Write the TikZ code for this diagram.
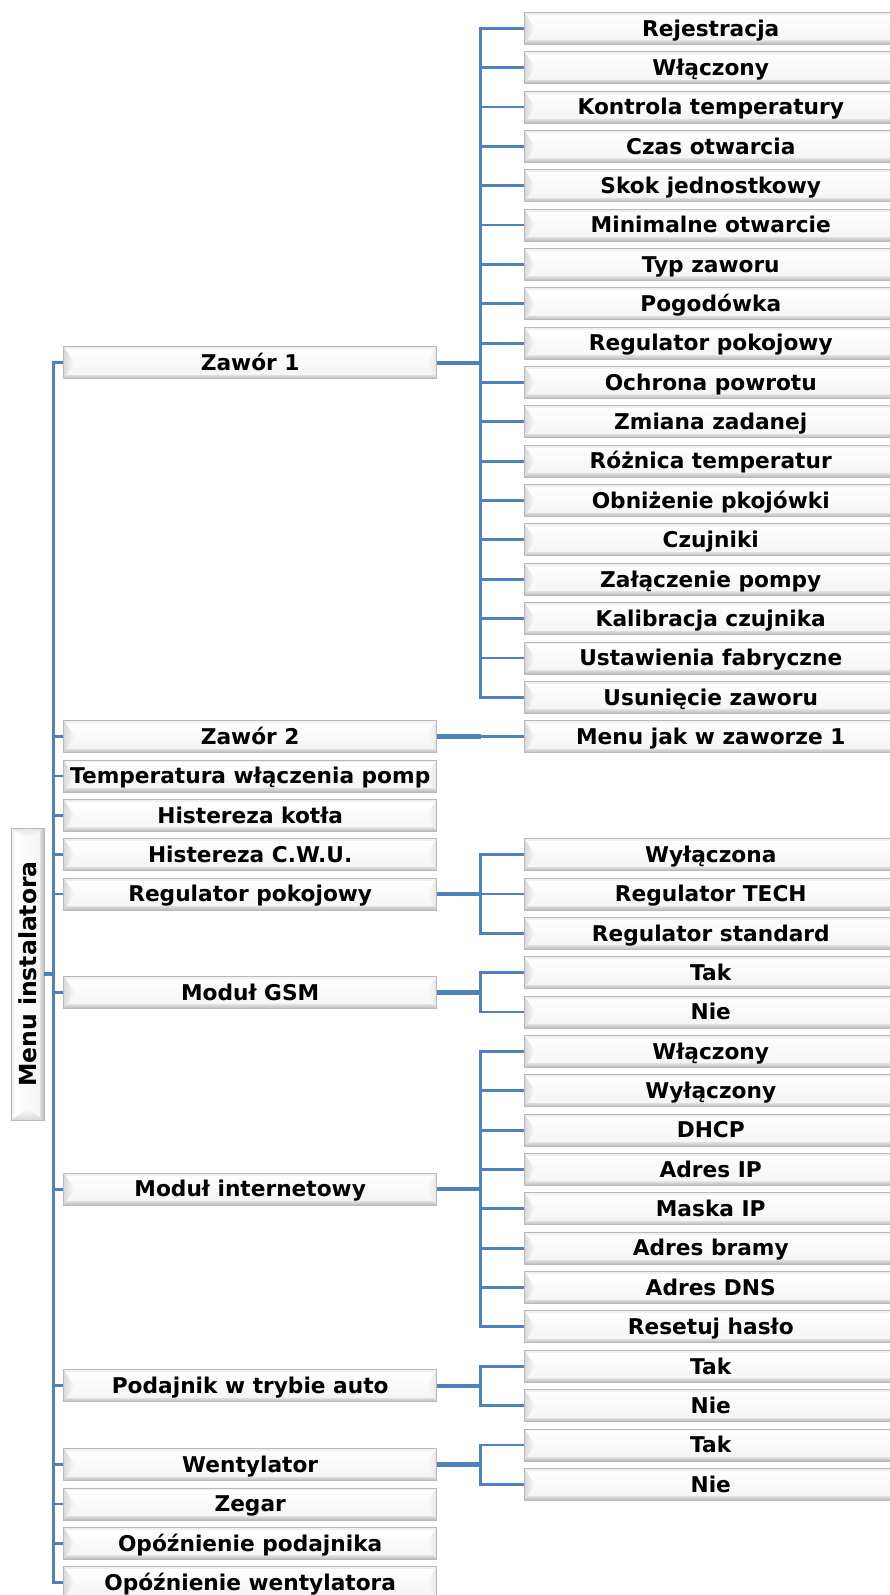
\documentclass[tikz,border=0pt]{standalone}
\usepackage{fontspec}
\usepackage{graphicx}
\newfontfamily\dvs{DejaVu Sans}
\usetikzlibrary{calc}
\definecolor{lb}{RGB}{79,129,189}
\tikzset{
  bevbox/.style={rectangle, minimum height=32pt, inner sep=0pt,
    text height=15.6pt, text depth=0pt,
    font=\dvs\bfseries\fontsize{21.7}{24}\selectfont,
    draw=gray!55, line width=0.8pt, top color=white, bottom color=gray!9,
    path picture={
      \fill[gray!12] (path picture bounding box.north west) rectangle ($(path picture bounding box.north east)+(0,-2.5)$);
      \shade[top color=gray!28, bottom color=gray!55] ($(path picture bounding box.south west)+(0,3.5)$) rectangle (path picture bounding box.south east);
      \shade[left color=gray!30, right color=gray!4] (path picture bounding box.north west) -- ($(path picture bounding box.west)+(11,0)$) -- (path picture bounding box.south west) -- cycle;
      \shade[right color=gray!20, left color=gray!3] (path picture bounding box.north east) -- ($(path picture bounding box.east)+(-10,0)$) -- (path picture bounding box.south east) -- cycle;
    }},
  lbox/.style={bevbox, minimum width=373pt},
  rbox/.style={bevbox, minimum width=373pt},
  vbox/.style={rectangle, minimum width=33pt, minimum height=292pt, inner sep=0pt,
    font=\dvs\bfseries\fontsize{23.5}{26}\selectfont,
    draw=gray!55, line width=0.8pt, left color=white, right color=gray!9,
    path picture={
      \fill[gray!12] (path picture bounding box.north west) rectangle ($(path picture bounding box.south west)+(2.5,0)$);
      \shade[left color=gray!28, right color=gray!55] ($(path picture bounding box.north east)+(-3.5,0)$) rectangle (path picture bounding box.south east);
      \shade[top color=gray!20, bottom color=gray!3] (path picture bounding box.north west) -- ($(path picture bounding box.north)+(0,-10)$) -- (path picture bounding box.north east) -- cycle;
      \shade[bottom color=gray!30, top color=gray!4] (path picture bounding box.south west) -- ($(path picture bounding box.south)+(0,11)$) -- (path picture bounding box.south east) -- cycle;
    }},
  thinl/.style={draw=lb, line width=2.8pt},
  thickl/.style={draw=lb, line width=4.5pt}
}
\begin{document}
\begin{tikzpicture}[x=1pt, y=1pt]
\useasboundingbox (0,0) rectangle (890,-1595);
\coordinate (tr) at (53.5,0);
\coordinate (br) at (480.5,0);
% right column
\foreach \r/\n/\t in {
  0/r0/Rejestracja, 1/r1/Włączony, 2/r2/Kontrola temperatury, 3/r3/Czas otwarcia,
  4/r4/Skok jednostkowy, 5/r5/Minimalne otwarcie, 6/r6/Typ zaworu, 7/r7/Pogodówka,
  8/r8/Regulator pokojowy, 9/r9/Ochrona powrotu, 10/r10/Zmiana zadanej,
  11/r11/Różnica temperatur, 12/r12/Obniżenie pkojówki, 13/r13/Czujniki,
  14/r14/Załączenie pompy, 15/r15/Kalibracja czujnika, 16/r16/Ustawienia fabryczne,
  17/r17/Usunięcie zaworu, 18/r18/Menu jak w zaworze 1,
  21/r21/Wyłączona, 22/r22/Regulator TECH, 23/r23/Regulator standard,
  24/r24/Tak, 25/r25/Nie, 26/r26/Włączony, 27/r27/Wyłączony, 28/r28/DHCP,
  29/r29/Adres IP, 30/r30/Maska IP, 31/r31/Adres bramy, 32/r32/Adres DNS,
  33/r33/Resetuj hasło, 34/r34/Tak, 35/r35/Nie, 36/r36/Tak, 37/r37/Nie}
  \node[rbox] (\n) at (710.75,{-(28.3+\r*39.35)}) {\t};
% left column
\foreach \r/\n/\t in {
  8.5/lz1/Zawór 1, 18/lz2/Zawór 2, 19/ltemp/Temperatura włączenia pomp,
  20/lhk/Histereza kotła, 21/lhc/Histereza C.W.U., 22/lreg/Regulator pokojowy,
  24.5/lgsm/Moduł GSM, 29.5/lint/Moduł internetowy, 34.5/lpod/Podajnik w trybie auto,
  36.5/lwen/Wentylator, 37.5/lzeg/Zegar, 38.5/lop/Opóźnienie podajnika,
  39.5/low/Opóźnienie wentylatora}
  \node[lbox] (\n) at (250.2,{-(28.3+\r*39.35)}) {\t};
% main box
\node[vbox] (menu) at (27.5,-974) {\rotatebox{90}{Menu instalatora}};
% trunk
\draw[thickl] (menu) -- (menu -| tr);
\draw[thinl] (lz1.west) -- (lz1.west -| tr) -- (low.west -| tr) -- (low.west);
\foreach \n in {lz2,ltemp,lhk,lhc,lreg,lgsm,lint,lpod,lwen,lzeg,lop}
  \draw[thinl] (\n.west -| tr) -- (\n.west);
% Zawor 1
\draw[thickl] (lz1.east) -- (lz1.east -| br);
\draw[thinl] (r0.west) -- (r0.west -| br) -- (r17.west -| br) -- (r17.west);
\foreach \i in {1,...,16} \draw[thinl] (r\i.west -| br) -- (r\i.west);
% Zawor 2
\draw[thickl] (lz2.east) -- (lz2.east -| br);
\draw[thinl] (r18.west -| br) -- (r18.west);
% Regulator pokojowy
\draw[thickl] (lreg.east) -- (lreg.east -| br);
\draw[thinl] (r21.west) -- (r21.west -| br) -- (r23.west -| br) -- (r23.west);
\draw[thinl] (r22.west -| br) -- (r22.west);
% GSM
\draw[thickl] (lgsm.east) -- (lgsm.east -| br);
\draw[thinl] (r24.west) -- (r24.west -| br) -- (r25.west -| br) -- (r25.west);
% internet
\draw[thickl] (lint.east) -- (lint.east -| br);
\draw[thinl] (r26.west) -- (r26.west -| br) -- (r33.west -| br) -- (r33.west);
\foreach \i in {27,...,32} \draw[thinl] (r\i.west -| br) -- (r\i.west);
% podajnik
\draw[thickl] (lpod.east) -- (lpod.east -| br);
\draw[thinl] (r34.west) -- (r34.west -| br) -- (r35.west -| br) -- (r35.west);
% wentylator
\draw[thickl] (lwen.east) -- (lwen.east -| br);
\draw[thinl] (r36.west) -- (r36.west -| br) -- (r37.west -| br) -- (r37.west);
\end{tikzpicture}
\end{document}
